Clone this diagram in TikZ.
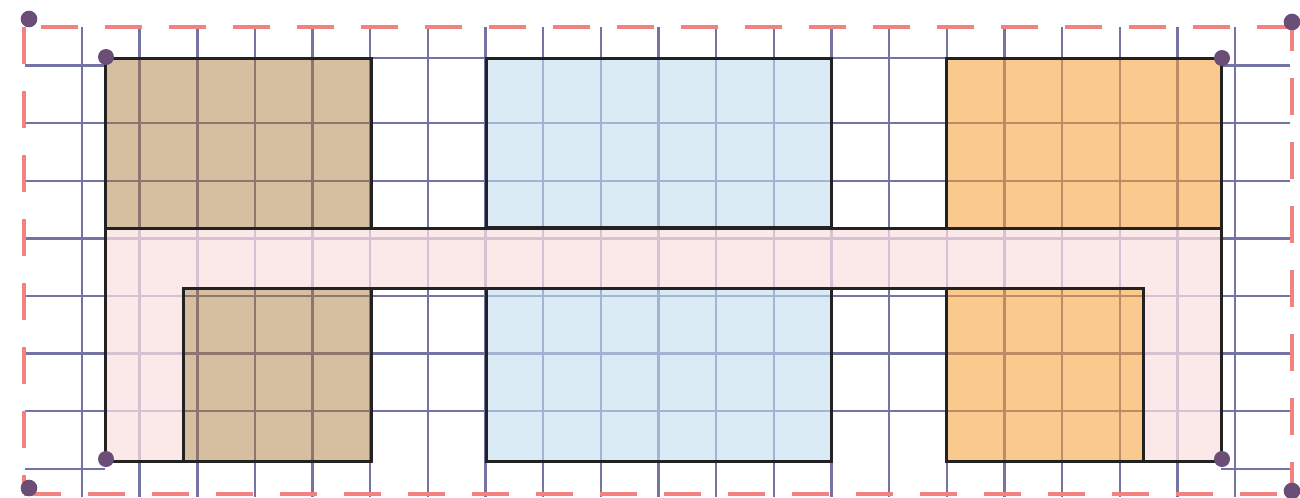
\documentclass[tikz,border=0pt]{standalone}
\begin{document}
\definecolor{gridc}{RGB}{116,116,162}
\definecolor{brownf}{RGB}{214,191,161}
\definecolor{brownl}{RGB}{142,118,110}
\definecolor{bluef}{RGB}{219,235,246}
\definecolor{bluel}{RGB}{162,179,212}
\definecolor{orangef}{RGB}{249,201,142}
\definecolor{orangel}{RGB}{190,140,100}
\definecolor{pinkf}{RGB}{251,232,232}
\definecolor{pinkl}{RGB}{215,193,208}
\definecolor{outl}{RGB}{34,34,34}
\definecolor{dashc}{RGB}{242,130,128}
\definecolor{dotc}{RGB}{106,78,120}
\newcommand\tintgrid[1]{%
  \foreach \i in {0,...,20}{\draw[gridline,#1] ({82+57.65*\i},27) -- ({82+57.65*\i},497);}
  \foreach \j in {1,...,6}{\draw[gridline,#1] (25,{65.5+57.6*\j}) -- (1290,{65.5+57.6*\j});}
}
\begin{tikzpicture}[x=0.75pt,y=-0.75pt,
  gridline/.style={line width=1.8pt,color=gridc},
  outline/.style={line width=2.25pt,color=outl,line join=miter},
  border/.style={line width=3pt,color=dashc,dash pattern=on 27.75pt off 20.25pt},
  corner/.style={circle,fill=dotc,inner sep=0pt,minimum size=12.5pt}]
\useasboundingbox (0,0) rectangle (1300,497);
% base grid
\tintgrid{}
\draw[gridline] (25,65.5) -- (105,65.5) (1221,65.5) -- (1290,65.5);
\draw[gridline] (25,468.7) -- (105,468.7) (1221,468.7) -- (1290,468.7);
\draw[gridline] (105,58) -- (1221,58);
% filled regions with tinted grid
\begin{scope}
  \clip (105,58) rectangle (371,228) (183,288) rectangle (371,461);
  \fill[brownf] (0,0) rectangle (1300,497);
  \tintgrid{brownl}
\end{scope}
\begin{scope}
  \clip (486,58) rectangle (831,227) (486,288) rectangle (831,461);
  \fill[bluef] (0,0) rectangle (1300,497);
  \tintgrid{bluel}
\end{scope}
\begin{scope}
  \clip (946,58) rectangle (1221,228) (946,288) rectangle (1143,461);
  \fill[orangef] (0,0) rectangle (1300,497);
  \tintgrid{orangel}
\end{scope}
\begin{scope}
  \clip (105,228) -- (1221,228) -- (1221,461) -- (1143,461) -- (1143,288) -- (183,288) -- (183,461) -- (105,461) -- cycle;
  \fill[pinkf] (0,0) rectangle (1300,497);
  \tintgrid{pinkl}
\end{scope}
% outlines
\draw[outline] (105,58) rectangle (371,228);
\draw[outline] (183,288) rectangle (371,461);
\draw[outline] (486,58) rectangle (831,227);
\draw[outline] (486,288) rectangle (831,461);
\draw[outline] (946,58) rectangle (1221,228);
\draw[outline] (946,288) rectangle (1143,461);
\draw[outline] (105,228) -- (1221,228) -- (1221,461) -- (1143,461) -- (1143,288) -- (183,288) -- (183,461) -- (105,461) -- cycle;
% dashed border
\draw[border,dash phase=35.25pt] (24,27) -- (1292,27);
\draw[border] (24,27) -- (24,494);
\draw[border] (24,494) -- (1292,494);
\draw[border,dash phase=9.75pt] (1292,27) -- (1292,494);
% corner dots
\node[corner] (o1) at (29,19) {};
\node[corner] (o2) at (1292,22) {};
\node[corner] (o3) at (29,488) {};
\node[corner] (o4) at (1292,491) {};
\node[corner,minimum size=12pt] (i1) at (106,57) {};
\node[corner,minimum size=12pt] (i2) at (1222,58) {};
\node[corner,minimum size=12pt] (i3) at (106,459) {};
\node[corner,minimum size=12pt] (i4) at (1222,459) {};
\end{tikzpicture}
\end{document}
